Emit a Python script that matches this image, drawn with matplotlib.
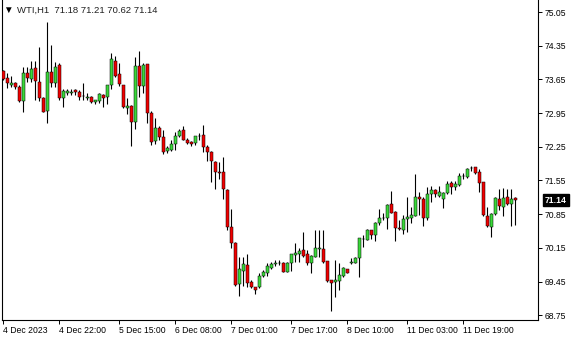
#!/usr/bin/env python3
"""
WTI H1 蜡烛图（MetaTrader 风格），输出 out.png (580x340)。
"""

from __future__ import annotations

import matplotlib

matplotlib.use("Agg")
import matplotlib.pyplot as plt
import matplotlib.transforms as mtransforms
import numpy as np

SYMBOL = "WTI,H1"

OPEN = [
    73.82, 73.68, 73.53, 73.57, 73.50, 73.21, 73.78, 73.65, 73.89, 73.59,
    73.27, 73.00, 73.80, 73.57, 73.95, 73.27, 73.37, 73.37, 73.43, 73.39,
    73.30, 73.27, 73.29, 73.17, 73.21, 73.32, 73.28, 73.53, 74.03, 73.76,
    73.53, 73.05, 73.10, 72.77, 73.93, 73.52, 73.97, 72.96, 72.37, 72.63,
    72.45, 72.17, 72.18, 72.30, 72.47, 72.60, 72.40, 72.35, 72.32, 72.47,
    72.49, 72.25, 72.15, 71.94, 71.73, 71.73, 71.36, 70.59, 70.25, 69.39,
    69.67, 69.80, 69.44, 69.33, 69.33, 69.56, 69.62, 69.73, 69.82, 69.83,
    69.84, 69.65, 69.83, 70.01, 70.03, 70.10, 70.02, 69.84, 69.96, 70.13,
    70.12, 69.87, 69.48, 69.43, 69.47, 69.57, 69.71, 69.84, 69.84, 69.93,
    70.33, 70.32, 70.52, 70.41, 70.66, 70.78, 70.76, 71.06, 70.90, 70.56,
    70.53, 70.74, 70.78, 70.82, 71.20, 71.16, 70.76, 71.26, 71.35, 71.22,
    71.16, 71.28, 71.49, 71.41, 71.45, 71.65, 71.63, 71.81, 71.82, 71.72,
    71.51, 70.82, 70.59, 70.86, 71.16, 71.00, 71.21, 71.07, 71.18,
]
HIGH = [
    73.84, 73.78, 73.72, 73.60, 73.53, 73.91, 73.91, 74.03, 74.03, 74.33,
    73.28, 74.85, 74.36, 74.02, 73.99, 73.45, 73.46, 73.46, 73.46, 73.43,
    73.57, 73.37, 73.30, 73.23, 73.37, 73.34, 73.54, 74.19, 74.14, 74.00,
    73.54, 73.26, 73.12, 74.12, 74.25, 74.00, 73.98, 73.00, 72.84, 72.68,
    72.60, 72.26, 72.39, 72.56, 72.61, 72.68, 72.43, 72.37, 72.48, 72.54,
    72.70, 72.28, 72.16, 71.96, 71.94, 72.04, 71.38, 70.95, 70.27, 69.96,
    69.96, 70.03, 69.49, 69.34, 69.62, 69.69, 69.84, 69.86, 69.90, 69.89,
    69.86, 69.86, 70.03, 70.26, 70.14, 70.47, 70.10, 70.01, 70.53, 70.52,
    70.53, 69.88, 69.49, 69.89, 69.83, 69.75, 69.72, 69.93, 69.95, 70.36,
    70.41, 70.55, 70.53, 70.69, 70.95, 70.88, 71.07, 71.33, 70.91, 70.72,
    70.83, 71.20, 71.00, 71.68, 71.31, 71.20, 71.42, 71.43, 71.38, 71.43,
    71.31, 71.54, 71.54, 71.54, 71.70, 71.70, 71.80, 71.85, 71.83, 71.79,
    71.52, 71.00, 70.87, 71.21, 71.38, 71.40, 71.38, 71.37, 71.21,
]
LOW = [
    73.64, 73.48, 73.50, 73.46, 73.17, 72.98, 73.60, 73.60, 73.22, 73.21,
    72.97, 72.74, 73.50, 73.50, 73.22, 73.08, 73.32, 73.32, 73.32, 73.22,
    73.22, 73.22, 73.16, 73.14, 73.16, 73.07, 73.14, 73.46, 73.70, 73.51,
    73.05, 72.93, 72.27, 72.62, 73.29, 73.36, 72.75, 72.28, 72.30, 72.39,
    72.10, 72.12, 72.16, 72.18, 72.46, 72.39, 72.31, 72.27, 72.28, 72.40,
    72.15, 71.96, 71.52, 71.38, 71.57, 71.16, 70.52, 70.14, 69.35, 69.15,
    69.35, 69.34, 69.31, 69.19, 69.31, 69.54, 69.56, 69.72, 69.77, 69.79,
    69.64, 69.64, 69.67, 69.85, 69.86, 69.96, 69.79, 69.63, 69.96, 69.96,
    69.84, 69.43, 68.84, 69.13, 69.27, 69.55, 69.62, 69.81, 69.83, 69.55,
    70.17, 70.31, 70.34, 70.29, 70.62, 70.72, 70.55, 70.87, 70.30, 70.52,
    70.43, 70.48, 70.67, 70.81, 70.83, 70.61, 70.73, 71.11, 71.20, 71.20,
    70.97, 71.27, 71.26, 71.35, 71.44, 71.59, 71.61, 71.74, 71.68, 71.30,
    70.82, 70.59, 70.38, 70.83, 70.93, 70.82, 71.04, 70.61, 70.62,
]
CLOSE = [
    73.66, 73.57, 73.58, 73.50, 73.21, 73.78, 73.67, 73.86, 73.62, 73.26,
    72.98, 73.80, 73.57, 73.91, 73.27, 73.41, 73.41, 73.39, 73.38, 73.29,
    73.31, 73.28, 73.19, 73.22, 73.35, 73.27, 73.53, 74.07, 73.73, 73.55,
    73.07, 73.10, 72.77, 73.93, 73.52, 73.95, 72.96, 72.35, 72.63, 72.45,
    72.15, 72.22, 72.30, 72.47, 72.58, 72.40, 72.33, 72.30, 72.47, 72.48,
    72.25, 72.15, 71.96, 71.73, 71.71, 71.38, 70.59, 70.25, 69.37, 69.70,
    69.81, 69.42, 69.34, 69.27, 69.56, 69.65, 69.77, 69.81, 69.84, 69.84,
    69.65, 69.84, 70.02, 70.05, 70.08, 69.98, 69.84, 69.98, 70.14, 70.14,
    69.85, 69.46, 69.41, 69.48, 69.58, 69.73, 69.63, 69.86, 69.93, 70.35,
    70.34, 70.53, 70.41, 70.67, 70.76, 70.78, 71.04, 70.88, 70.57, 70.55,
    70.74, 70.79, 70.83, 71.20, 71.16, 70.78, 71.27, 71.35, 71.26, 71.30,
    71.29, 71.47, 71.41, 71.47, 71.65, 71.65, 71.78, 71.81, 71.70, 71.49,
    70.83, 70.61, 70.86, 71.18, 71.02, 71.19, 71.07, 71.16, 71.14,
]

TIME_LABELS = [
    "4 Dec 2023", "4 Dec 22:00", "5 Dec 15:00", "6 Dec 08:00", "7 Dec 01:00",
    "7 Dec 17:00", "8 Dec 10:00", "11 Dec 03:00", "11 Dec 19:00",
]
TIME_LABEL_BARS = [0, 14, 29, 43, 57, 72, 86, 101, 115]

PRICE_TICKS = [68.75, 69.45, 70.15, 70.85, 71.55, 72.25, 72.95, 73.65, 74.35, 75.05]

BULL_COLOR = "#3ad83a"
BEAR_COLOR = "#f00000"
W, H = 580, 340


def draw_candles(ax: plt.Axes) -> None:
    o = np.asarray(OPEN)
    h = np.asarray(HIGH)
    l = np.asarray(LOW)
    c = np.asarray(CLOSE)
    x = np.arange(len(o))
    up = c >= o
    ax.vlines(x, l, h, color="black", linewidth=0.8, zorder=2)
    ax.bar(
        x,
        np.abs(c - o),
        bottom=np.minimum(o, c),
        width=0.72,
        color=np.where(up, BULL_COLOR, BEAR_COLOR),
        edgecolor="black",
        linewidth=0.35,
        zorder=3,
    )


def main() -> None:
    plt.rcParams["font.family"] = ["Liberation Sans", "DejaVu Sans"]
    fig = plt.figure(figsize=(W / 100, H / 100), dpi=100)
    # 图区：左 2px，右 538px，底 320px，顶到画布上沿
    ax = fig.add_axes([2 / W, 20 / H, 536 / W, 320 / H])

    draw_candles(ax)

    ax.set_xlim(-0.3, 133.7)
    ax.set_ylim(68.65, 75.30)

    for side in ("left", "right", "bottom"):
        ax.spines[side].set_linewidth(0.8)
        ax.spines[side].set_color("black")
    ax.spines["top"].set_visible(False)

    ax.yaxis.tick_right()
    ax.set_yticks(PRICE_TICKS)
    ax.set_yticklabels([f"{v:.2f}" for v in PRICE_TICKS])
    ax.tick_params(axis="y", direction="out", length=3, width=0.7,
                   labelsize=6.2, pad=2)

    ax.set_xticks(TIME_LABEL_BARS)
    ax.set_xticklabels(TIME_LABELS)
    ax.tick_params(axis="x", direction="out", length=3, width=0.7,
                   labelsize=6.2, pad=1)
    for lbl in ax.get_xticklabels():
        lbl.set_horizontalalignment("left")

    # 当前价标签（右侧黑底白字）
    trans = mtransforms.blended_transform_factory(ax.transAxes, ax.transData)
    ax.text(1 + 7 / 536, CLOSE[-1], f"{CLOSE[-1]:.2f}", transform=trans,
            ha="left", va="center", color="white", fontsize=6.2,
            fontweight="bold", clip_on=False,
            bbox=dict(boxstyle="square,pad=0.2", facecolor="black",
                      edgecolor="black"))

    # 左上角品种 / OHLC
    fig.text(8 / W, 1 - 10 / H, "▼", ha="center", va="center", fontsize=7)
    fig.text(17 / W, 1 - 10 / H,
             f"{SYMBOL}  {OPEN[-1]:.2f} {HIGH[-1]:.2f} {LOW[-1]:.2f} {CLOSE[-1]:.2f}",
             ha="left", va="center", fontsize=6.8, color="#202020")

    fig.savefig("out.png", dpi=100, facecolor="white")


if __name__ == "__main__":
    main()
